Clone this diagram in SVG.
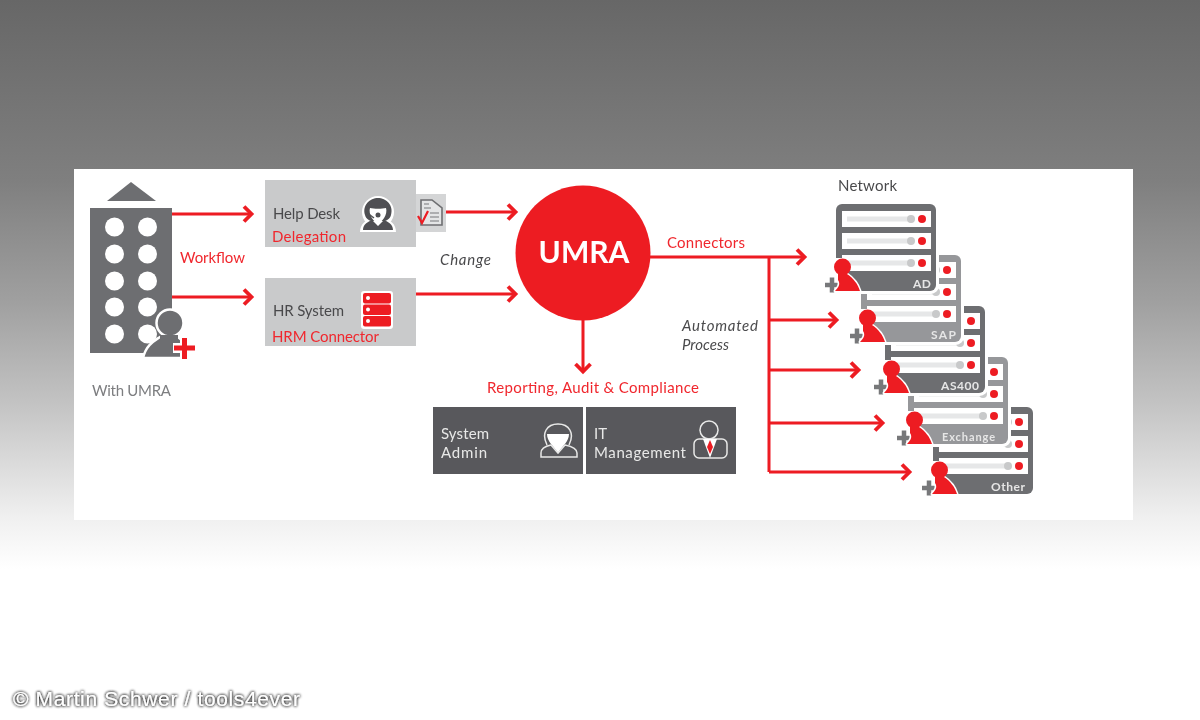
<svg xmlns="http://www.w3.org/2000/svg" width="1200" height="720" viewBox="0 0 1200 720">
<style>
.t{font-family:Lato,"Open Sans","Liberation Sans",sans-serif;font-size:15px}
.k{fill:#4a4a4c}.r{fill:#f0282e}.w{fill:#e8e8e8}
.c{fill:none;stroke:#ed1c24;stroke-width:3}
.lbl{font-family:Lato,"Open Sans","Liberation Sans",sans-serif;font-size:12px;font-weight:700;fill:#e6e6e6;text-anchor:end}
</style>
<defs>
<linearGradient id="bg" x1="0" y1="0" x2="0" y2="1">
<stop offset="0" stop-color="#676767"/><stop offset=".25" stop-color="#7f7f7f"/><stop offset=".42" stop-color="#a0a0a0"/><stop offset=".56" stop-color="#c3c3c3"/><stop offset=".72" stop-color="#f0f0f0"/><stop offset=".79" stop-color="#fff"/>
</linearGradient>
<filter id="soft" x="-2%" y="-2%" width="104%" height="104%"><feGaussianBlur stdDeviation="0.45"/></filter>
<filter id="glow" x="-5%" y="-50%" width="110%" height="200%"><feGaussianBlur in="SourceAlpha" stdDeviation="1.8" result="b"/><feFlood flood-color="#222"/><feComposite in2="b" operator="in" result="d"/><feMerge><feMergeNode in="d"/><feMergeNode in="d"/><feMergeNode in="SourceGraphic"/></feMerge></filter>
<marker id="ah" markerUnits="userSpaceOnUse" markerWidth="16" markerHeight="20" refX="12" refY="10" orient="auto"><path d="M4 2.500L11.500 10L4 17.500" fill="none" stroke="#ed1c24" stroke-width="3.800"/></marker>
<g id="srv">
<rect x="0" y="0" width="100" height="87" rx="6"/>
<rect x="6" y="7" width="89" height="16" fill="#fff"/>
<rect x="6" y="29" width="89" height="16" fill="#fff"/>
<rect x="6" y="51" width="89" height="16" fill="#fff"/>
<rect x="11" y="12.500" width="64" height="5" fill="#e6e7e8"/><circle cx="75" cy="15" r="4" fill="#c8c9ca"/><circle cx="86" cy="15" r="4" fill="#ed1c24"/>
<rect x="11" y="34.500" width="64" height="5" fill="#e6e7e8"/><circle cx="75" cy="37" r="4" fill="#c8c9ca"/><circle cx="86" cy="37" r="4" fill="#ed1c24"/>
<rect x="11" y="56.500" width="64" height="5" fill="#e6e7e8"/><circle cx="75" cy="59" r="4" fill="#c8c9ca"/><circle cx="86" cy="59" r="4" fill="#ed1c24"/>
<rect x="-3" y="54" width="9" height="36" fill="#fff"/>
</g>
<g id="who">
<path d="M-11 81H4M-4 73.500V88.500" stroke="#77787a" stroke-width="4.500" fill="none"/>
<path d="M2 70H11C17 74 22 80 24 87H-1C2 84 5 80 2 76Z" fill="#ed1c24" stroke="#fff" stroke-width="3" stroke-linejoin="round"/>
<circle cx="6.500" cy="63" r="8.500" fill="#ed1c24"/>
<path d="M2 70H11C17 74 22 80 24 87H-1C2 84 5 80 2 76Z" fill="#ed1c24"/>
</g>
<rect id="halo" x="-1.500" y="-1.500" width="103" height="90" rx="7" fill="#fff" stroke="#fff" stroke-width="3"/>
</defs>
<rect id="background" width="1200" height="720" fill="url(#bg)"/>
<rect id="panel" x="74" y="169" width="1059" height="351" fill="#fff"/>
<g filter="url(#soft)">
<g id="building">
<path d="M107 201L131 182L156 201Z" fill="#6d6e71"/>
<rect x="90" y="208" width="82" height="145" fill="#6d6e71"/>
<g fill="#fff"><circle cx="114.500" cy="227" r="9.500"/><circle cx="147.500" cy="227" r="9.500"/><circle cx="114.500" cy="254" r="9.500"/><circle cx="147.500" cy="254" r="9.500"/><circle cx="114.500" cy="281" r="9.500"/><circle cx="147.500" cy="281" r="9.500"/><circle cx="114.500" cy="307" r="9.500"/><circle cx="147.500" cy="307" r="9.500"/><circle cx="114.500" cy="334" r="9.500"/><circle cx="147.500" cy="334" r="9.500"/></g>
<path d="M143 358C146 345 154 341 160 337H178C182 340 184 342 186 345V358Z" fill="#6d6e71" stroke="#fff" stroke-width="2.500"/>
<circle cx="170" cy="323" r="13.500" fill="#6d6e71" stroke="#fff" stroke-width="2.500"/>
<path d="M160 335H178L178 345H160Z" fill="#6d6e71"/>
<path d="M185 337V360M173 348H197" stroke="#fff" stroke-width="10"/>
<path d="M184.500 338V359M174 348H195" stroke="#ed1c24" stroke-width="5"/>
<text class="t" x="92" y="396" fill="#7d7e80" textLength="79">With UMRA</text>
</g>
<g id="help-desk">
<rect x="265" y="180" width="151" height="67" fill="#c9cacb"/>
<rect x="416" y="194" width="30" height="38" fill="#d4d5d6"/>
<text class="t k" x="273" y="219" textLength="67">Help Desk</text>
<text class="t r" x="272" y="242" textLength="74">Delegation</text>
<circle cx="378" cy="212" r="16" fill="#fff"/>
<path d="M360 232C360 224 366 220 372 218H384C390 220 396 224 396 232Z" fill="#fff"/>
<path d="M365 215C362 205 370 198 378 198C386 198 394 205 391 215C390 219 386 221 384 221H372C370 221 366 219 365 215Z" fill="#4f5052"/>
<path d="M370 208C374 209 382 209 386 208C388 214 382 223 378 223C374 223 368 214 370 208Z" fill="#fff"/>
<path d="M366 212L374 218" stroke="#4f5052" stroke-width="1.500"/><circle cx="378" cy="215" r="2.500" fill="#4f5052"/>
<path d="M363 230C363 224 368 222 372 220L378 226L384 220C388 222 393 224 393 230Z" fill="#4f5052"/>
<path d="M421 200H432L442 208V225H421Z" fill="#e4e5e6" stroke="#6d6e71" stroke-width="1.600"/>
<path d="M424 204H429M424 208H431M430 213H439M430 217H439M430 221H439" stroke="#77787a" stroke-width="1.200"/>
<path d="M418 216L422 223L428 211" fill="none" stroke="#ed1c24" stroke-width="2.200"/>
</g>
<g id="hr-system">
<rect x="265" y="278" width="151" height="68" fill="#c9cacb"/>
<text class="t k" x="273" y="316" textLength="71">HR System</text>
<text class="t r" x="272" y="342" textLength="107">HRM Connector</text>
<rect x="361" y="291" width="32" height="38" rx="3" fill="#fff"/>
<rect x="363" y="293" width="28" height="10.500" rx="2" fill="#ed1c24"/><rect x="363" y="304.500" width="28" height="10.500" rx="2" fill="#ed1c24"/><rect x="363" y="316" width="28" height="10.500" rx="2" fill="#ed1c24"/>
<circle cx="368" cy="298" r="2" fill="#fff"/><circle cx="368" cy="309.500" r="2" fill="#fff"/><circle cx="368" cy="321" r="2" fill="#fff"/>
</g>
<g id="umra">
<circle cx="583" cy="253" r="67.500" fill="#ed1c24"/>
<text x="584" y="263" text-anchor="middle" font-family="Lato,'Open Sans','Liberation Sans',sans-serif" font-size="30" font-weight="700" fill="#fff">UMRA</text>
</g>
<g id="connectors">
<path class="c" d="M172 214H252" marker-end="url(#ah)"/>
<path class="c" d="M172 297H252" marker-end="url(#ah)"/>
<path class="c" d="M446 212H516" marker-end="url(#ah)"/>
<path class="c" d="M416 294H516" marker-end="url(#ah)"/>
<path class="c" d="M650 257H805" marker-end="url(#ah)"/>
<path class="c" d="M769 257V472"/>
<path class="c" d="M769 320H837" marker-end="url(#ah)"/>
<path class="c" d="M769 370H859" marker-end="url(#ah)"/>
<path class="c" d="M769 423H883" marker-end="url(#ah)"/>
<path class="c" d="M769 472H910" marker-end="url(#ah)"/>
<path class="c" d="M583 320V372" marker-end="url(#ah)"/>
</g>
<text class="t r" x="180" y="263" textLength="65">Workflow</text>
<text class="t k" x="440" y="265" font-style="italic" textLength="51">Change</text>
<text class="t r" x="667" y="248" textLength="78">Connectors</text>
<text class="t k" x="682" y="331" font-style="italic" textLength="76">Automated</text>
<text class="t k" x="682" y="350" font-style="italic" textLength="47">Process</text>
<text class="t k" x="838" y="191" textLength="59">Network</text>
<text class="t r" x="487" y="393" textLength="212">Reporting, Audit &amp; Compliance</text>
<g id="system-admin">
<rect x="433" y="407" width="150" height="67" fill="#58595b"/>
<text class="t w" x="441" y="439" textLength="48">System</text>
<text class="t w" x="441" y="458" textLength="46">Admin</text>
<path d="M547 434H569C569 442 562 446 558 453C554 446 547 442 547 434Z" fill="#fff"/>
<path d="M547 445C541 433 547 424 558 424C569 424 575 433 569 445" fill="none" stroke="#e8e8e8" stroke-width="1.500"/>
<path d="M541 457V453C541 448 546 446 551 445L558 453L565 445C570 446 577 448 577 453V457Z" fill="none" stroke="#e8e8e8" stroke-width="1.500"/>
</g>
<g id="it-management">
<rect x="586" y="407" width="150" height="67" fill="#58595b"/>
<text class="t w" x="594" y="439">IT</text>
<text class="t w" x="594" y="458" textLength="92">Management</text>
<circle cx="709" cy="430" r="9" fill="none" stroke="#e8e8e8" stroke-width="1.500"/>
<rect x="694" y="439" width="33" height="19" rx="5" fill="none" stroke="#e8e8e8" stroke-width="1.500"/>
<path d="M703 439L710 458L717 439" fill="#fff"/>
<path d="M710 440L713 447L710 454L707 447Z" fill="#ed1c24"/>
</g>
<g id="srv-other" transform="translate(933 407)">
<use href="#srv" fill="#6d6e71"/><use href="#who"/><text class="lbl" x="92" y="84" textLength="34">Other</text>
</g>
<g id="srv-exchange" transform="translate(908 357)">
<use href="#halo"/><use href="#srv" fill="#96979a"/><use href="#who"/><text class="lbl" x="87" y="84" textLength="53" style="font-size:11px">Exchange</text>
</g>
<g id="srv-as400" transform="translate(885 306)">
<use href="#halo"/><use href="#srv" fill="#6d6e71"/><use href="#who"/><text class="lbl" x="94" y="84" textLength="38">AS400</text>
</g>
<g id="srv-sap" transform="translate(861 255)">
<use href="#halo"/><use href="#srv" fill="#96979a"/><use href="#who"/><text class="lbl" x="95" y="84" textLength="25">SAP</text>
</g>
<g id="srv-ad" transform="translate(836 204)">
<use href="#halo"/><use href="#srv" fill="#6d6e71"/><use href="#who"/><text class="lbl" x="95" y="84" textLength="18">AD</text>
</g>
</g>
<text id="credit" x="13" y="706" font-family="'Liberation Sans',Arial,sans-serif" font-size="21" fill="#fff" filter="url(#glow)" textLength="287">© Martin Schwer / tools4ever</text>
</svg>
